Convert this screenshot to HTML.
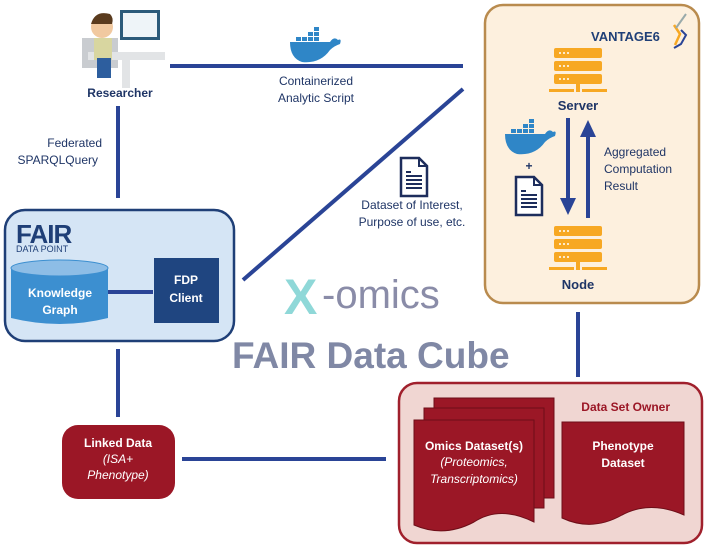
<!DOCTYPE html>
<html><head><meta charset="utf-8"><style>
html,body{margin:0;padding:0;background:#fff}
svg{display:block;font-family:"Liberation Sans",sans-serif}
</style></head><body>
<svg width="709" height="558" viewBox="0 0 709 558" xmlns="http://www.w3.org/2000/svg">
<defs>
<g id="srv">
<rect x="0" y="0" width="48" height="10" rx="2" fill="#f7a823"/>
<rect x="0" y="13" width="48" height="10" rx="2" fill="#f7a823"/>
<rect x="0" y="26" width="48" height="10" rx="2" fill="#f7a823"/>
<circle cx="6" cy="5" r="1" fill="#fff"/><circle cx="10" cy="5" r="1" fill="#fff"/><circle cx="14" cy="5" r="1" fill="#fff"/>
<circle cx="6" cy="18" r="1" fill="#fff"/><circle cx="10" cy="18" r="1" fill="#fff"/><circle cx="14" cy="18" r="1" fill="#fff"/>
<circle cx="6" cy="31" r="1" fill="#fff"/><circle cx="10" cy="31" r="1" fill="#fff"/><circle cx="14" cy="31" r="1" fill="#fff"/>
<rect x="22" y="36" width="4" height="8" fill="#f7a823"/>
<rect x="-5" y="41" width="25" height="3" fill="#f7a823"/><rect x="28" y="41" width="25" height="3" fill="#f7a823"/>
</g>
<g id="whale">
<path d="M0 14 L40 14 Q44 8 48 12 Q52 10 50 16 Q44 18 40 22 Q30 36 12 34 Q0 30 0 14Z" fill="#2f86c7"/>
<rect x="6" y="9" width="5" height="4" fill="#2f86c7"/><rect x="12" y="9" width="5" height="4" fill="#2f86c7"/><rect x="18" y="9" width="5" height="4" fill="#2f86c7"/><rect x="24" y="9" width="5" height="4" fill="#2f86c7"/>
<rect x="18" y="4" width="5" height="4" fill="#2f86c7"/><rect x="24" y="4" width="5" height="4" fill="#2f86c7"/><rect x="24" y="-1" width="5" height="4" fill="#2f86c7"/>
</g>
<g id="doc">
<path d="M0 0 L18 0 L26 8 L26 38 L0 38Z" fill="#fff" stroke="#1d2d5c" stroke-width="2.5"/>
<path d="M18 0 L18 8 L26 8" fill="none" stroke="#1d2d5c" stroke-width="2"/>
<g stroke="#1d2d5c" stroke-width="2"><line x1="5" y1="14" x2="10" y2="14"/><line x1="5" y1="18" x2="21" y2="18"/><line x1="5" y1="22" x2="21" y2="22"/><line x1="5" y1="26" x2="21" y2="26"/><line x1="5" y1="30" x2="21" y2="30"/></g>
</g>
</defs>

<!-- connectors -->
<g stroke="#2a4496" stroke-width="4" fill="none">
<line x1="170" y1="66" x2="463" y2="66"/>
<line x1="118" y1="106" x2="118" y2="198"/>
<line x1="243" y1="280" x2="463" y2="89"/>
<line x1="118" y1="349" x2="118" y2="417"/>
<line x1="182" y1="459" x2="386" y2="459"/>
<line x1="578" y1="312" x2="578" y2="377"/>
</g>

<!-- researcher -->
<g>
<rect x="82" y="38" width="36" height="30" fill="#c9ccd0"/>
<path d="M88 52 L165 52 L165 60 L130 60 L130 88 L122 88 L122 60 L88 60Z" fill="#e2e4e6"/>
<rect x="120" y="10" width="40" height="30" fill="#2b5a7a"/><rect x="123" y="13" width="34" height="24" fill="#eef4f8"/>
<circle cx="102" cy="27" r="11" fill="#f1c9a0"/><path d="M91 24 Q95 10 110 14 Q114 18 112 24Z" fill="#5a3b1e"/>
<rect x="94" y="38" width="18" height="22" fill="#d8d6a0"/><rect x="97" y="58" width="14" height="20" fill="#2d5e9e"/>
</g>
<text x="120" y="97" font-size="12" font-weight="bold" fill="#1f3566" text-anchor="middle">Researcher</text>
<use href="#whale" x="290" y="28"/>
<text x="316" y="85" font-size="12" fill="#1f3566" text-anchor="middle">Containerized</text>
<text x="316" y="102" font-size="12" fill="#1f3566" text-anchor="middle">Analytic Script</text>
<text x="102" y="147" font-size="12" fill="#1f3566" text-anchor="end">Federated</text>
<text x="98" y="164" font-size="12" fill="#1f3566" text-anchor="end">SPARQLQuery</text>

<!-- FAIR box -->
<rect x="5" y="210" width="229" height="131" rx="20" fill="#d5e5f5" stroke="#1f3f77" stroke-width="2.5"/>
<text x="16" y="243" font-size="26" font-weight="bold" fill="#1f3f77" letter-spacing="-1">FAIR</text>
<text x="16" y="252" font-size="9" fill="#1f3f77">DATA POINT</text>
<path d="M11 268 L108 268 L108 318 Q60 330 11 318Z" fill="#3c8fd0"/>
<ellipse cx="59.5" cy="268" rx="48.5" ry="8" fill="#8dbde6" stroke="#3c8fd0"/>
<text x="60" y="297" font-size="12" font-weight="bold" fill="#fff" text-anchor="middle">Knowledge</text>
<text x="60" y="314" font-size="12" font-weight="bold" fill="#fff" text-anchor="middle">Graph</text>
<line x1="108" y1="292" x2="153" y2="292" stroke="#2a4496" stroke-width="4"/>
<rect x="154" y="258" width="65" height="65" fill="#1f4580"/>
<text x="186" y="284" font-size="12" font-weight="bold" fill="#fff" text-anchor="middle">FDP</text>
<text x="186" y="302" font-size="12" font-weight="bold" fill="#fff" text-anchor="middle">Client</text>

<use href="#doc" x="401" y="158"/>
<text x="412" y="209" font-size="12" fill="#1f3566" text-anchor="middle">Dataset of Interest,</text>
<text x="412" y="226" font-size="12" fill="#1f3566" text-anchor="middle">Purpose of use, etc.</text>

<text x="284" y="314" font-size="50" font-weight="bold" fill="#8fd8d8">X</text>
<text x="322" y="308" font-size="40" fill="#8a8ca8">-omics</text>
<text x="232" y="368" font-size="37" font-weight="bold" fill="#8088a5">FAIR Data Cube</text>

<!-- Vantage -->
<rect x="485" y="5" width="214" height="298" rx="18" fill="#fdf0de" stroke="#b98b4e" stroke-width="2.5"/>
<text x="591" y="41" font-size="13" font-weight="bold" fill="#1f3f77">VANTAGE6</text>
<path d="M674 25 L680 34 L675 45" fill="none" stroke="#f7a823" stroke-width="2.5"/>
<path d="M681 30 L686 35 L681 44 L674 48" fill="none" stroke="#2a4496" stroke-width="2"/>
<line x1="676" y1="28" x2="686" y2="14" stroke="#9aa" stroke-width="2"/>
<use href="#srv" x="554" y="48"/>
<text x="578" y="110" font-size="13" font-weight="bold" fill="#1f3566" text-anchor="middle">Server</text>
<line x1="568" y1="118" x2="568" y2="200" stroke="#2a4496" stroke-width="4"/>
<path d="M560 198 L576 198 L568 215Z" fill="#2a4496"/>
<line x1="588" y1="135" x2="588" y2="218" stroke="#2a4496" stroke-width="4"/>
<path d="M580 137 L596 137 L588 120Z" fill="#2a4496"/>
<text x="604" y="156" font-size="12" fill="#1f3566">Aggregated</text>
<text x="604" y="173" font-size="12" fill="#1f3566">Computation</text>
<text x="604" y="190" font-size="12" fill="#1f3566">Result</text>
<use href="#whale" x="505" y="120"/>
<text x="529" y="170" font-size="12" font-weight="bold" fill="#1f3566" text-anchor="middle">+</text>
<use href="#doc" x="516" y="177"/>
<use href="#srv" x="554" y="226"/>
<text x="578" y="289" font-size="13" font-weight="bold" fill="#1f3566" text-anchor="middle">Node</text>

<!-- Linked data -->
<rect x="62" y="425" width="113" height="74" rx="16" fill="#9b1726"/>
<text x="118" y="447" font-size="12" font-weight="bold" fill="#fff" text-anchor="middle">Linked Data</text>
<text x="118" y="463" font-size="12" font-style="italic" fill="#fff" text-anchor="middle">(ISA+</text>
<text x="118" y="479" font-size="12" font-style="italic" fill="#fff" text-anchor="middle">Phenotype)</text>

<!-- Data set owner -->
<rect x="399" y="383" width="303" height="160" rx="18" fill="#f0d6d2" stroke="#a0202c" stroke-width="2.5"/>
<text x="670" y="411" font-size="12" font-weight="bold" fill="#9b1726" text-anchor="end">Data Set Owner</text>
<g fill="#9b1726" stroke="#6e0e18" stroke-width="1">
<rect x="434" y="398" width="120" height="100"/>
<rect x="424" y="408" width="120" height="100"/>
<path d="M414 420 L534 420 L534 522 Q500 505 474 522 Q444 538 414 525Z"/>
<path d="M562 422 L684 422 L684 515 Q650 500 622 515 Q592 532 562 518Z"/>
</g>
<text x="474" y="450" font-size="12" font-weight="bold" fill="#fff" text-anchor="middle">Omics Dataset(s)</text>
<text x="474" y="466" font-size="12" font-style="italic" fill="#fff" text-anchor="middle">(Proteomics,</text>
<text x="474" y="483" font-size="12" font-style="italic" fill="#fff" text-anchor="middle">Transcriptomics)</text>
<text x="623" y="450" font-size="12" font-weight="bold" fill="#fff" text-anchor="middle">Phenotype</text>
<text x="623" y="467" font-size="12" font-weight="bold" fill="#fff" text-anchor="middle">Dataset</text>
</svg>
</body></html>
